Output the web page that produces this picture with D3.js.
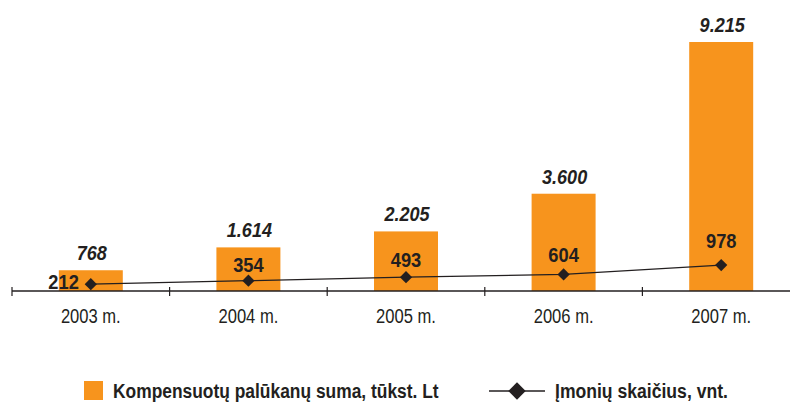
<!DOCTYPE html>
<html><head><meta charset="utf-8">
<script src="https://cdn.jsdelivr.net/npm/d3@7"></script>
<style>body{margin:0;background:#fff}svg{display:block}</style>
</head><body><svg id="c" width="790" height="403"></svg>
<script>
const years = ["2003 m.","2004 m.","2005 m.","2006 m.","2007 m."];
const sums = [768,1614,2205,3600,9215];
const counts = [212,354,493,604,978];
const legendLabels = ["Kompensuotų palūkanų suma, tūkst. Lt","Įmonių skaičius, vnt."];

const FONT = "'Liberation Sans','Arial',sans-serif";
const ORANGE = "#F7941D", INK = "#231F20";
const svg = d3.select("#c");
const fmt = d3.formatLocale({thousands:".",grouping:[3],decimal:",",currency:["",""]}).format(",d");

const base = 291;
const x = d3.scaleBand().domain(years).range([12, 800]).padding(0);
const y = d3.scaleLinear().domain([0, 9215]).range([base, 42]);
const y2 = d3.scaleLinear().domain([0, 1000]).range([289.5, 264.5]);
const yl = d3.scaleLinear().domain([0, 1000]).range([285.6, 247.1]);
const bw = x.bandwidth()*0.406;
const cx = d => x(d) + x.bandwidth()/2;

// bars
svg.selectAll("rect.bar").data(years).join("rect")
  .attr("x", d => cx(d)-bw/2).attr("width", bw)
  .attr("y", (d,i) => y(sums[i])).attr("height", (d,i) => base - y(sums[i]))
  .attr("fill", ORANGE);

// axis
svg.append("line").attr("x1",12).attr("x2",790).attr("y1",base).attr("y2",base)
  .attr("stroke",INK).attr("stroke-width",1.3);
svg.selectAll("line.tick").data(years).join("line")
  .attr("x1", d => x(d)).attr("x2", d => x(d)).attr("y1",287).attr("y2",296)
  .attr("stroke",INK).attr("stroke-width",1.2);
svg.selectAll("text.yr").data(years).join("text")
  .attr("transform", d => `translate(${cx(d)},323) scale(0.85,1)`).attr("text-anchor","middle")
  .attr("font-family",FONT).attr("font-size",19.5).attr("fill",INK).text(d=>d);

// bar value labels
svg.selectAll("text.sv").data(years).join("text")
  .attr("transform", (d,i) => `translate(${cx(d)+1},${y(sums[i]) - 10}) scale(0.86,1)`).attr("text-anchor","middle")
  .attr("font-family",FONT).attr("font-size",21).attr("font-weight","bold").attr("font-style","italic")
  .attr("fill",INK).text((d,i)=>fmt(sums[i]));

// line
const line = d3.line().x(d => cx(d)).y((d,i) => y2(counts[i]));
svg.append("path").datum(years).attr("d", line).attr("fill","none").attr("stroke",INK).attr("stroke-width",1.3);
svg.selectAll("path.pt").data(years).join("path")
  .attr("d", d3.symbol().type(d3.symbolSquare).size(75))
  .attr("transform",(d,i)=>`translate(${cx(d)},${y2(counts[i])}) rotate(45)`)
  .attr("fill",INK);
svg.selectAll("text.cv").data(years).join("text")
  .attr("transform", (d,i) => i===0
      ? `translate(${cx(d)-12},${y2(counts[i])+5}) scale(0.87,1)`
      : `translate(${cx(d)},${yl(counts[i])}) scale(0.87,1)`)
  .attr("text-anchor",(d,i)=> i===0 ? "end" : "middle")
  .attr("font-family",FONT).attr("font-size",21).attr("font-weight","bold")
  .attr("fill",INK).text((d,i)=>counts[i]);

// legend
const lg = svg.append("g");
function fitText(sel, x0, yb, w) {
  const len = sel.node().getComputedTextLength();
  sel.attr("transform", `translate(${x0},${yb}) scale(${w/len},1)`);
}
lg.append("rect").attr("x",84).attr("y",381).attr("width",19).attr("height",19).attr("fill",ORANGE);
const t1 = lg.append("text").attr("font-family",FONT).attr("font-size",21)
  .attr("font-weight","bold").attr("fill",INK).text(legendLabels[0]);
fitText(t1, 113, 398, 326);
lg.append("line").attr("x1",489).attr("x2",545).attr("y1",391).attr("y2",391).attr("stroke",INK).attr("stroke-width",1.4);
lg.append("path").attr("d", d3.symbol().type(d3.symbolSquare).size(150)).attr("transform","translate(517,391) rotate(45)").attr("fill",INK);
const t2 = lg.append("text").attr("font-family",FONT).attr("font-size",21)
  .attr("font-weight","bold").attr("fill",INK).text(legendLabels[1]);
fitText(t2, 555, 398, 173);
</script></body></html>
